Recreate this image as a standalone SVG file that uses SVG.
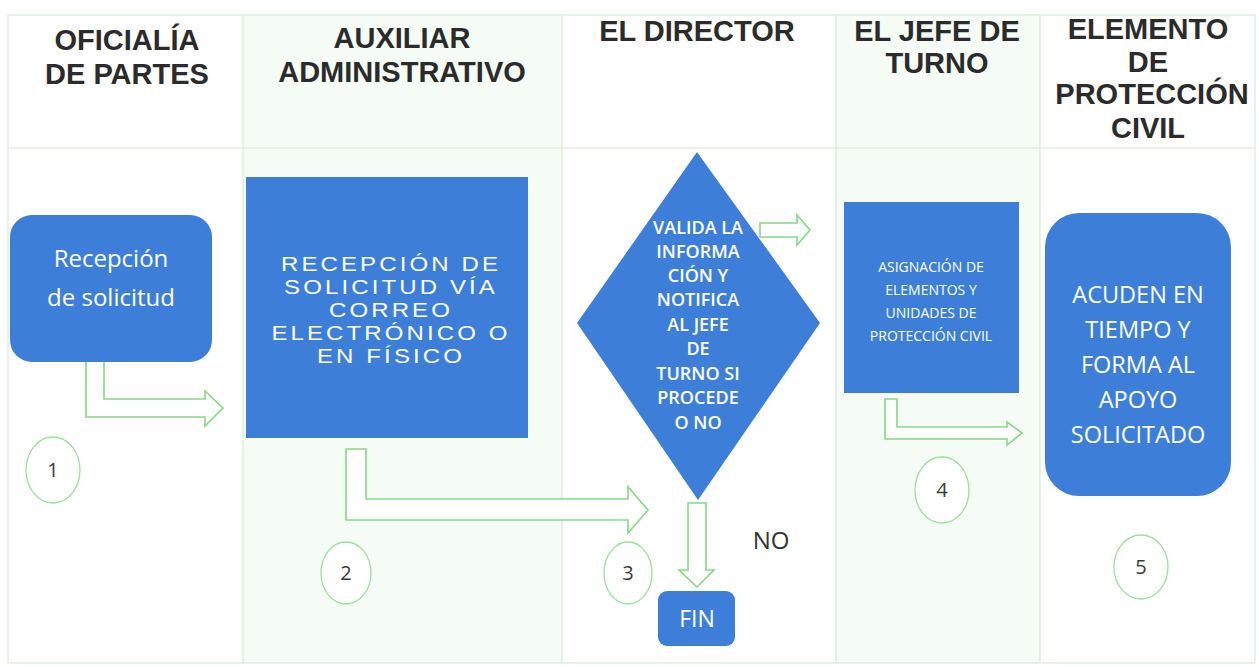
<svg xmlns="http://www.w3.org/2000/svg" width="1259" height="667" viewBox="0 0 1259 667">
<style>
.hdr{font-family:"Liberation Sans",Arial,sans-serif;font-weight:bold;font-size:29px;fill:#2b2b2b;text-anchor:middle}
.blue{fill:#3d7fd8}
.wt{font-family:"Open Sans","Noto Sans",sans-serif;fill:#ffffff;text-anchor:middle}
.ar{font-family:"Liberation Sans",Arial,sans-serif;fill:#ffffff;text-anchor:middle;font-size:20px;letter-spacing:2.6px}
.conn{fill:#ffffff;stroke:#86d886;stroke-width:1.6;stroke-linejoin:miter}
.num{fill:#ffffff;stroke:#9be09b;stroke-width:1.3}
.numt{font-family:"Open Sans","Noto Sans",sans-serif;font-size:20px;fill:#3a3a3a;text-anchor:middle}
.nolbl{font-family:"Open Sans","Noto Sans",sans-serif;font-size:24px;fill:#333333;text-anchor:middle}
.grid{stroke:#d6ecd6;stroke-width:1.2;fill:none}
</style>
<rect width="1259" height="667" fill="#ffffff"/>
<g id="table">
<rect x="243" y="15" width="319" height="648" fill="#f5fcf5"/>
<rect x="836" y="15" width="204" height="648" fill="#f5fcf5"/>
<rect class="grid" x="8" y="15" width="1247" height="648"/>
<line class="grid" x1="8" y1="148" x2="1255" y2="148"/>
<line class="grid" x1="243" y1="15" x2="243" y2="663"/>
<line class="grid" x1="562" y1="15" x2="562" y2="663"/>
<line class="grid" x1="836" y1="15" x2="836" y2="663"/>
<line class="grid" x1="1040" y1="15" x2="1040" y2="663"/>
</g>
<g id="headers">
<text class="hdr" x="127" y="50">OFICIALÍA</text>
<text class="hdr" x="127" y="84">DE PARTES</text>
<text class="hdr" x="402" y="48">AUXILIAR</text>
<text class="hdr" x="402" y="82">ADMINISTRATIVO</text>
<text class="hdr" x="697" y="41">EL DIRECTOR</text>
<text class="hdr" x="937" y="41">EL JEFE DE</text>
<text class="hdr" x="937" y="73">TURNO</text>
<text class="hdr" x="1148" y="39">ELEMENTO</text>
<text class="hdr" x="1148" y="72">DE</text>
<text class="hdr" x="1152" y="104">PROTECCIÓN</text>
<text class="hdr" x="1148" y="138">CIVIL</text>
</g>
<g id="connectors">
<polygon class="conn" points="86,360 104,360 104,399 205,399 205,391 223,408 205,426 205,417 86,417"/>
<polygon class="conn" points="346,449 366,449 366,499 628,499 628,487 648,510 628,533 628,520 346,520"/>
<polygon class="conn" points="760,223 797,223 797,215 810,230 797,245 797,237 760,237"/>
<polygon class="conn" points="885,399 897,399 897,427 1007,427 1007,422 1022,433 1007,445 1007,439 885,439"/>
<polygon class="conn" points="688,503 706,503 706,570 714,570 697,587 679,570 688,570"/>
</g>
<g id="n1">
<rect class="blue" x="10" y="215" width="202" height="147" rx="22"/>
<text class="wt" x="111" y="267" font-size="24">Recepción</text>
<text class="wt" x="111" y="306" font-size="24">de solicitud</text>
</g>
<g id="n2">
<rect class="blue" x="246" y="177" width="282" height="261"/>
<g transform="translate(391 0) scale(1.2 1)">
<text class="ar" x="0" y="271">RECEPCIÓN DE</text>
<text class="ar" x="0" y="294">SOLICITUD VÍA</text>
<text class="ar" x="0" y="317">CORREO</text>
<text class="ar" x="0" y="340">ELECTRÓNICO O</text>
<text class="ar" x="0" y="363">EN FÍSICO</text>
</g>
</g>
<g id="n3">
<polygon class="blue" points="697,152 820,323 698,500 577,323"/>
<g font-size="18" font-weight="600">
<text class="wt" x="698" y="234">VALIDA LA</text>
<text class="wt" x="698" y="258">INFORMA</text>
<text class="wt" x="698" y="282">CIÓN Y</text>
<text class="wt" x="698" y="306">NOTIFICA</text>
<text class="wt" x="698" y="331">AL JEFE</text>
<text class="wt" x="698" y="355">DE</text>
<text class="wt" x="698" y="380">TURNO SI</text>
<text class="wt" x="698" y="404">PROCEDE</text>
<text class="wt" x="698" y="429">O NO</text>
</g>
</g>
<g id="fin">
<rect class="blue" x="658" y="591" width="77" height="55" rx="9"/>
<text class="wt" x="697" y="627" font-size="23">FIN</text>
</g>
<g id="n4">
<rect class="blue" x="844" y="202" width="175" height="191"/>
<text class="wt" x="931" y="272" font-size="14">ASIGNACIÓN DE</text>
<text class="wt" x="931" y="295" font-size="14">ELEMENTOS Y</text>
<text class="wt" x="931" y="318" font-size="14">UNIDADES DE</text>
<text class="wt" x="931" y="341" font-size="14">PROTECCIÓN CIVIL</text>
</g>
<g id="n5">
<rect class="blue" x="1045" y="213" width="186" height="283" rx="34"/>
<text class="wt" x="1138" y="303" font-size="23.5">ACUDEN EN</text>
<text class="wt" x="1138" y="338" font-size="23.5">TIEMPO Y</text>
<text class="wt" x="1138" y="373" font-size="23.5">FORMA AL</text>
<text class="wt" x="1138" y="408" font-size="23.5">APOYO</text>
<text class="wt" x="1138" y="443" font-size="23.5">SOLICITADO</text>
</g>
<g id="no-label">
<text class="nolbl" x="771" y="549">NO</text>
</g>
<g id="step1"><ellipse class="num" cx="53" cy="470" rx="27" ry="33"/><text class="numt" x="53" y="477">1</text></g>
<g id="step2"><ellipse class="num" cx="346" cy="573" rx="25" ry="31"/><text class="numt" x="346" y="580">2</text></g>
<g id="step3"><ellipse class="num" cx="628" cy="573" rx="24" ry="31"/><text class="numt" x="628" y="580">3</text></g>
<g id="step4"><ellipse class="num" cx="942" cy="490" rx="27" ry="33"/><text class="numt" x="942" y="497">4</text></g>
<g id="step5"><ellipse class="num" cx="1141" cy="567" rx="27" ry="32"/><text class="numt" x="1141" y="574">5</text></g>
</svg>
